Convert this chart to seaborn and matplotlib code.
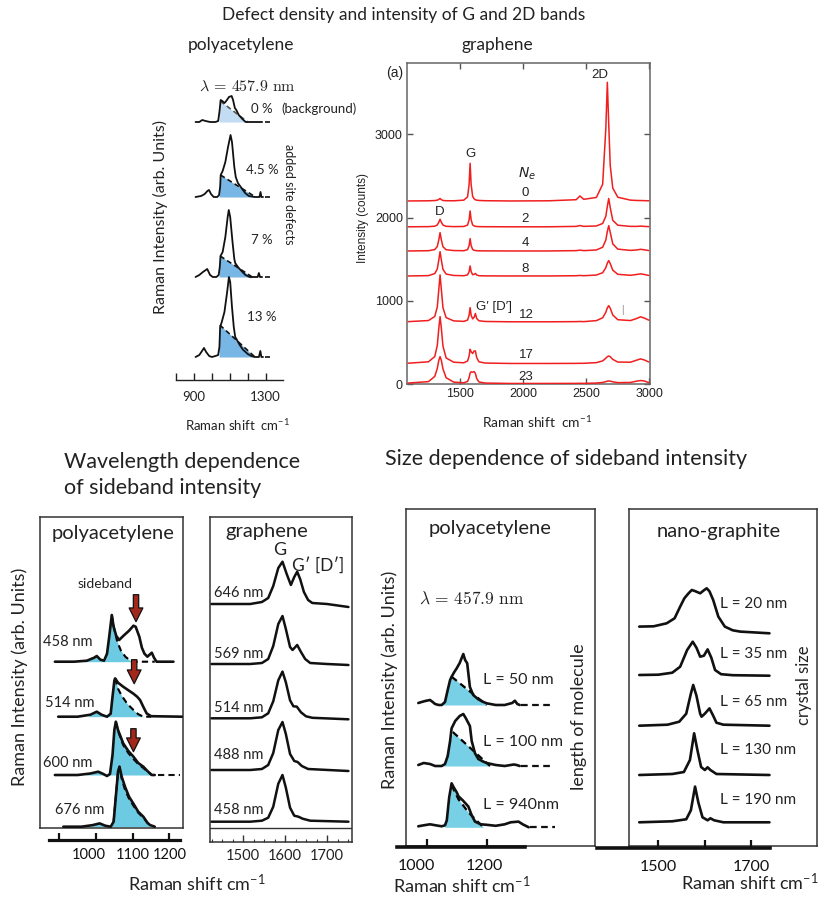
import numpy as np
import matplotlib
matplotlib.use('Agg')
import matplotlib.pyplot as plt
import seaborn as sns
from matplotlib.transforms import ScaledTranslation

sns.set_theme(style='white')
plt.rcParams['font.family'] = ['Lato', 'DejaVu Sans']
plt.rcParams['mathtext.fontset'] = 'custom'
plt.rcParams['mathtext.rm'] = 'Lato'
plt.rcParams['mathtext.it'] = 'Lato:italic'

W, H = 830, 908
fig = plt.figure(figsize=(8.3, 9.08), dpi=100)
fig.patch.set_facecolor('white')

# ---------------- data : panel 1 (polyacetylene, defects) ----------------
p1_labels = ['0 %', '4.5 %', '7 %', '13 %']
p1_offsets = [258, 183, 103, 23]
p1_x_0 = [909, 930, 946, 965, 990, 1020, 1035, 1042, 1049, 1058, 1070, 1080, 1095, 1110, 1118, 1128, 1136, 1150, 1170, 1188, 1230, 1280]
p1_y_0 = [0, 0, 2, 1, 0, 0, 1, 10, 22, 21, 19, 21, 25, 26, 22, 14, 12, 7, 3, 0, 0, 0]
p1_x_45 = [909, 940, 960, 975, 984, 995, 1010, 1030, 1040, 1046, 1049, 1060, 1075, 1090, 1104, 1112, 1125, 1133, 1145, 1165, 1185, 1206, 1240, 1265, 1271, 1276, 1285]
p1_y_45 = [0, 1, 3, 6, 7, 3, 0, 0, 2, 10, 22, 26, 35, 50, 62, 55, 30, 20, 14, 9, 4, 1, 0, 0, 5, 0, 0]
p1_x_7 = [909, 930, 950, 974, 990, 1005, 1025, 1038, 1044, 1048, 1060, 1075, 1088, 1094, 1102, 1115, 1125, 1130, 1145, 1165, 1187, 1210, 1255, 1262, 1268, 1280]
p1_y_7 = [0, 2, 5, 8, 2, 0, 0, 2, 10, 21, 25, 40, 60, 67, 60, 35, 18, 14, 10, 6, 2, 0, 0, 4, 0, 0]
p1_x_13 = [909, 930, 945, 956, 968, 985, 1000, 1020, 1035, 1042, 1046, 1055, 1070, 1085, 1095, 1102, 1112, 1122, 1130, 1140, 1155, 1175, 1200, 1220, 1240, 1262, 1270, 1276, 1285]
p1_y_13 = [0, 2, 6, 9, 5, 1, 0, 1, 2, 10, 30, 35, 45, 65, 80, 75, 50, 30, 20, 17, 12, 7, 3, 1, 0, 0, 6, 0, 0]
p1_fit_x = [[1040, 1046, 1200], [1040, 1048, 1243], [1040, 1046, 1225], [1040, 1044, 1240]]
p1_fit_y = [[0, 21, 0], [0, 22, 0], [0, 21, 0], [0, 32, 0]]
p1_tail = [1295, 1345]
p1_ticks = [800, 900, 1000, 1100, 1200, 1300]
p1_ticklabels = ['', '900', '', '', '', '1300']

# ---------------- data : panel 2 (graphene, red) ----------------
p2_labels = ['0', '2', '4', '8', '12', '17', '23']
p2_base = [2200, 1890, 1600, 1300, 750, 250, 10]
p2_x = [1090, 1250, 1300, 1320, 1332, 1342, 1352, 1365, 1390, 1450, 1530, 1560, 1572, 1580, 1588, 1600, 1612, 1622, 1632, 1650,
        1700, 1900, 2200, 2420, 2450, 2480, 2580, 2630, 2655, 2667, 2678, 2690, 2710, 2750, 2850, 2900, 2930, 2960, 2995]
p2_y_0 = [0, 2, 5, 10, 18, 30, 16, 6, 3, 2, 10, 50, 200, 452, 200, 55, 25, 14, 10, 6, 3, 0, 2, 15, 60, 20, 42, 200, 870, 1424, 925, 425, 154, 45, 10, 6, 5, 4, 2]
p2_y_2 = [0, 2, 7, 22, 55, 90, 55, 21, 6, 2, 4, 21, 84, 190, 84, 23, 10, 6, 4, 2, 1, 0, 0, 5, 15, 5, 10, 40, 126, 245, 340, 231, 78, 19, 5, 5, 8, 5, 2]
p2_y_4 = [0, 3, 17, 54, 134, 220, 134, 51, 15, 5, 3, 16, 65, 148, 65, 18, 8, 5, 3, 2, 1, 0, 0, 4, 10, 4, 12, 45, 131, 234, 304, 224, 85, 22, 7, 12, 20, 14, 5]
p2_y_8 = [0, 4, 29, 84, 193, 292, 193, 79, 23, 6, 3, 13, 53, 120, 53, 15, 20, 30, 12, 3, 1, 0, 0, 3, 6, 3, 11, 39, 99, 154, 184, 149, 70, 20, 8, 18, 25, 18, 6]
p2_y_12 = [2, 15, 64, 178, 389, 562, 389, 168, 50, 11, 5, 21, 80, 170, 80, 35, 55, 100, 40, 12, 4, 0, 0, 2, 4, 2, 14, 48, 114, 167, 194, 163, 82, 25, 15, 40, 60, 45, 20]
p2_y_17 = [3, 20, 83, 217, 423, 562, 423, 207, 66, 15, 8, 30, 90, 170, 140, 120, 150, 150, 70, 20, 5, 0, 0, 1, 2, 2, 10, 31, 63, 82, 90, 81, 49, 17, 15, 40, 55, 42, 18]
p2_y_23 = [5, 22, 85, 181, 278, 322, 278, 174, 69, 16, 8, 25, 70, 125, 140, 135, 142, 120, 60, 18, 5, 0, 0, 1, 2, 1, 5, 12, 22, 28, 30, 28, 20, 10, 12, 28, 35, 30, 10]
p2_xticks = [1500, 2000, 2500, 3000]
p2_yticks = [0, 1000, 2000, 3000]

# ---------------- data : panel 3 (polyacetylene, wavelength) ----------------
p3_labels = ['458 nm', '514 nm', '600 nm', '676 nm']
p3_offsets = [166, 111, 52.7, 1]
p3_x_458 = [888, 940, 975, 995, 1002, 1012, 1022, 1030, 1036, 1043, 1048, 1055, 1063, 1075, 1090, 1102, 1108, 1118, 1125, 1132, 1140, 1146, 1152, 1158, 1165, 1211]
p3_y_458 = [0, 0, 1, 4, 5.7, 2, 1, 8, 25, 46.7, 35, 26, 21.7, 26, 31, 36, 35, 25, 14, 8, 5, 7, 9, 4, 0, 0]
p3_fx_458 = [965, 985, 1002, 1015, 1025, 1030, 1036, 1043, 1050, 1058, 1068, 1080, 1092, 1100, 1160]
p3_fy_458 = [0, 2, 5.7, 2, 1, 8, 25, 46.7, 32, 20, 11, 5, 1.5, 0, 0]
p3_x_514 = [897, 950, 985, 1002, 1015, 1030, 1040, 1045, 1050, 1052, 1060, 1074, 1090, 1102, 1112, 1120, 1130, 1138, 1150, 1234]
p3_y_514 = [0, 0, 2, 5, 2, 0, 3, 20, 36, 38.3, 34, 30, 26, 23, 20, 16.7, 9, 3.3, 0.5, 0]
p3_fx_514 = [975, 990, 1002, 1015, 1030, 1040, 1045, 1050, 1052, 1060, 1070, 1085, 1102, 1115, 1129, 1150]
p3_fy_514 = [0, 2, 5, 2, 0, 3, 20, 36, 38.3, 28, 21, 13, 6.7, 2.5, 0, 0]
p3_x_600 = [888, 950, 985, 1006, 1020, 1030, 1038, 1045, 1050, 1054, 1060, 1074, 1088, 1102, 1115, 1129, 1140, 1152, 1160]
p3_y_600 = [0, 0, 1.5, 3.3, 1, -1, 1, 20, 45, 53.3, 45, 31.7, 24, 18.3, 12, 8.3, 4, 0, 0]
p3_fx_600 = [970, 990, 1006, 1020, 1030, 1038, 1045, 1050, 1054, 1062, 1074, 1088, 1102, 1115, 1129, 1140, 1152]
p3_fy_600 = [0, 1.5, 3.3, 1, 0, 1, 20, 45, 53.3, 42, 30, 22, 16, 11, 7, 3.5, 0]
p3_x_676 = [911, 960, 990, 1010, 1025, 1040, 1048, 1054, 1060, 1064, 1070, 1079, 1090, 1102, 1115, 1129, 1140, 1147, 1160]
p3_y_676 = [0, 0, 1.5, 3.3, 1, 0, 5, 30, 55, 60, 50, 40, 30, 23, 15, 10, 4, 1.7, 0]
p3_fx_676 = [980, 995, 1010, 1025, 1040, 1048, 1054, 1060, 1064, 1070, 1079, 1090, 1102, 1115, 1129, 1140, 1150]
p3_fy_676 = [0, 1.5, 3.3, 1, 0, 5, 30, 55, 60, 48, 37, 28, 21, 14, 9, 4, 0]
p3_dash_from = [1043, 1052, 1054, 1048]
p3_tail_600 = [1168, 1228]
p3_arrow_x = [1109, 1104, 1102]
p3_arrow_top = [233, 168, 99]
p3_arrow_tip = [206, 144, 76]
p3_ticks = [900, 1000, 1100, 1200]
p3_ticklabels = ['', '1000', '1100', '1200']

# ---------------- data : panel 4 (graphene, wavelength) ----------------
p4_labels = ['646 nm', '569 nm', '514 nm', '488 nm', '458 nm']
p4_offsets = [237.7, 177.7, 123.4, 71.7, 20]
p4_x_646 = [1425, 1477, 1517, 1545, 1560, 1572, 1584, 1594, 1604, 1614, 1622, 1629, 1636, 1645, 1655, 1665, 1700, 1751]
p4_y_646 = [0, 0, 0, 2, 6, 18, 36, 42.3, 30, 19, 27, 32.3, 25, 12, 4, 1, 0, -3]
p4_x_569 = [1425, 1517, 1545, 1560, 1572, 1584, 1594, 1602, 1612, 1618, 1629, 1638, 1648, 1660, 1700, 1751]
p4_y_569 = [0, 0, 1, 5, 18, 40, 48, 35, 17, 14, 19, 12, 5, 1, 0, -1]
p4_x_514 = [1425, 1517, 1545, 1560, 1572, 1584, 1594, 1602, 1612, 1620, 1628, 1638, 1650, 1665, 1751]
p4_y_514 = [0, 0, 1, 5, 17, 38, 46.7, 36, 18, 12, 11.7, 6, 2, 0.5, -1]
p4_x_488 = [1425, 1517, 1545, 1560, 1572, 1584, 1594, 1602, 1612, 1622, 1630, 1640, 1655, 1751]
p4_y_488 = [0, 0, 1, 5, 17, 40, 48, 36, 16, 9, 8, 4, 1, -1]
p4_x_458 = [1425, 1517, 1545, 1560, 1572, 1584, 1594, 1602, 1612, 1622, 1632, 1642, 1660, 1751]
p4_y_458 = [0, 0, 1, 4, 15, 38, 46.7, 34, 14, 6, 5, 3, 1, 0]
p4_ticks = [1500, 1600, 1700]

# ---------------- data : panel 5 (polyacetylene, size) ----------------
p5_labels = ['L = 50 nm', 'L = 100 nm', 'L = 940nm']
p5_offsets = [141, 80, 18.7]
p5_x_50 = [972, 983, 995, 1011, 1020, 1028, 1040, 1050, 1061, 1070, 1078, 1083, 1092, 1100, 1110, 1122, 1128, 1135, 1144, 1155, 1172, 1189, 1200, 1230, 1260, 1285, 1294, 1302, 1310]
p5_y_50 = [2, 3, 4, 5, 3, 1, 0, 0, 3, 15, 25, 28.3, 33, 36.7, 42, 51, 45, 41.7, 18, 10, 5.7, 3, 1.7, 0, 0, 2, 4.3, 1, 0]
p5_fx_50 = [1050, 1062, 1083, 1200]
p5_fy_50 = [0, 10, 28.3, 0]
p5_x_100 = [972, 990, 1011, 1028, 1050, 1061, 1070, 1078, 1083, 1095, 1110, 1122, 1130, 1144, 1150, 1161, 1172, 1189, 1200, 1230, 1260, 1290, 1300, 1310]
p5_y_100 = [1, 3, 2, 0, 0, 2, 10, 25, 37.7, 45, 50, 52, 48, 40, 25, 12.7, 7, 4.3, 3, 1, 0, 1.5, 1, 0]
p5_fx_100 = [1055, 1066, 1087, 1211]
p5_fy_100 = [0, 12, 34, 0]
p5_x_940 = [972, 990, 1011, 1030, 1050, 1061, 1067, 1075, 1083, 1090, 1100, 1106, 1120, 1139, 1150, 1161, 1180, 1200, 1230, 1260, 1280, 1306, 1320, 1340]
p5_y_940 = [1, 2, 3, 2, 1, 2, 7, 30, 44, 40, 35, 31, 27, 20.7, 12, 5.7, 3, 2.5, 1.5, 3, 5, 5.7, 3, 0]
p5_fx_940 = [1060, 1070, 1083, 1106, 1139, 1189]
p5_fy_940 = [0, 12, 42, 28, 15, 0]
p5_tails = [[1315, 1411], [1315, 1411], [1345, 1428]]
p5_ticks = [1000, 1200]

# ---------------- data : panel 6 (nano-graphite) ----------------
p6_labels = ['L = 20 nm', 'L = 35 nm', 'L = 65 nm', 'L = 130 nm', 'L = 190 nm']
p6_offsets = [212.7, 170.3, 120.3, 71, 23.7]
p6_x_20 = [1459, 1490, 1518, 1535, 1547, 1556, 1565, 1572, 1580, 1590, 1598, 1604, 1610, 1618, 1629, 1643, 1660, 1676, 1739]
p6_y_20 = [6.7, 7, 10, 15, 26.7, 35, 40, 43.3, 42, 40, 43, 45, 42, 33.3, 16.7, 6.7, 3, 1.7, 0]
p6_x_35 = [1459, 1500, 1530, 1547, 1562, 1574, 1582, 1590, 1598, 1606, 1614, 1622, 1635, 1660, 1739]
p6_y_35 = [0.7, 1, 3, 9, 25.7, 34, 28, 19, 20, 26.3, 18, 5.7, 1.5, 0.5, 0]
p6_x_65 = [1459, 1520, 1545, 1560, 1570, 1575, 1582, 1590, 1593, 1600, 1610, 1618, 1625, 1640, 1739]
p6_y_65 = [0, 1, 4, 12, 32, 40.7, 30, 12, 9, 12, 17.3, 10, 3, 1, 0]
p6_x_130 = [1459, 1530, 1555, 1568, 1577, 1584, 1592, 1600, 1606, 1612, 1625, 1739]
p6_y_130 = [0, 1, 3, 15, 41.7, 25, 8, 5, 7.7, 5, 1, 0]
p6_x_190 = [1459, 1530, 1560, 1570, 1579, 1586, 1595, 1606, 1612, 1620, 1640, 1739]
p6_y_190 = [0, 1, 3, 12, 35.7, 20, 5, 2, 4, 2, 0, 0]
p6_ticks = [1500, 1600, 1700]
p6_ticklabels = ['1500', '', '1700']


# ---------------- helpers ----------------
def px_ax(x0, y0, x1, y1):
    ax = fig.add_axes([x0 / W, 1 - y1 / H, (x1 - x0) / W, (y1 - y0) / H])
    ax.set_facecolor('none')
    return ax


def put(x, y, s, **kw):
    kw.setdefault('ha', 'center')
    kw.setdefault('va', 'center')
    fig.text(x / W, 1 - y / H, s, **kw)


def frame(ax, spines=('left', 'right', 'top', 'bottom'), lw=1.0, color='black'):
    for k, s in ax.spines.items():
        s.set_visible(k in spines)
        s.set_linewidth(lw)
        s.set_color(color)
    ax.set_xticks([])
    ax.set_yticks([])


def line(ax, xs, ys, off, color='black', lw=1.6, z=3):
    sns.lineplot(x=np.asarray(xs, float), y=np.asarray(ys, float) + off, ax=ax, color=color,
                 linewidth=lw, estimator=None, sort=False, legend=False, zorder=z)
    ax.set_xlabel('')
    ax.set_ylabel('')


def fill(ax, fx, fy, off, color):
    fx = np.asarray(fx, float)
    fy = np.asarray(fy, float)
    ax.fill_between(fx, off, fy + off, color=color, lw=0, zorder=1)


def dashed(ax, fx, fy, off, start, color='black', lw=1.3):
    fx = np.asarray(fx, float)
    fy = np.asarray(fy, float)
    m = fx >= start
    ax.plot(fx[m], fy[m] + off, ls=(0, (3, 2)), color=color, lw=lw, zorder=2)


def underline_axis(ax, ticks, labels, size, pad, lw=2.3, tlen=5, shifts=None):
    for k, s in ax.spines.items():
        s.set_visible(k == 'bottom')
    ax.spines['bottom'].set_linewidth(lw)
    ax.spines['bottom'].set_color('#111111')
    ax.set_yticks([])
    ax.set_xticks(ticks)
    ax.set_xticklabels(labels)
    ax.tick_params(axis='x', direction='in', length=tlen, width=1.6, pad=pad, labelsize=size,
                   colors='#111111', bottom=True)
    if shifts:
        for lab, dx in zip(ax.get_xticklabels(), shifts):
            lab.set_transform(lab.get_transform() + ScaledTranslation(dx / 100.0, 0, fig.dpi_scale_trans))


# ================= panel 1 =================
ax1 = px_ax(176, 80, 283.3, 380)
ax1.set_xlim(800, 1398)
ax1.set_ylim(0, 300)
for s in ax1.spines.values():
    s.set_visible(False)
ax1.spines['bottom'].set_visible(True)
ax1.spines['bottom'].set_color('#222222')
ax1.spines['bottom'].set_linewidth(1.0)
ax1.set_yticks([])
ax1.set_xticks(p1_ticks)
ax1.set_xticklabels(p1_ticklabels)
ax1.tick_params(axis='x', direction='in', length=5, width=1, pad=8, labelsize=9.5, bottom=True, colors='#222222')
p1_xs = [p1_x_0, p1_x_45, p1_x_7, p1_x_13]
p1_ys = [p1_y_0, p1_y_45, p1_y_7, p1_y_13]
for i in range(4):
    off = p1_offsets[i]
    col = '#c2ddf3' if i == 0 else '#78b6e6'
    fill(ax1, p1_fit_x[i], p1_fit_y[i], off, col)
    dashed(ax1, p1_fit_x[i], p1_fit_y[i], off, p1_fit_x[i][1], color='#555555' if i == 0 else '#111111', lw=1.2)
    line(ax1, p1_xs[i], p1_ys[i], off, color='#111111', lw=1.3)
    ax1.plot(p1_tail, [off, off], ls=(0, (3, 3)), color='#111111', lw=1.2)

put(404, 15, 'Defect density and intensity of G and 2D bands', fontsize=12.5, color='#222222')
put(241, 45, 'polyacetylene', fontsize=12.5, color='#222222')
put(497, 45, 'graphene', fontsize=12.5, color='#222222')
put(247, 87, r'$\lambda\,=\,457.9\ \mathrm{nm}$', fontsize=11.5, math_fontfamily='cm', color='#222222')
p1_label_y = [109, 170, 240, 317]
for lab, yy in zip(p1_labels, p1_label_y):
    put(262, yy, lab, fontsize=9.5, color='#222222')
put(319, 109, '(background)', fontsize=9.5, color='#222222')
put(289, 194, 'added site defects', rotation=-90, fontsize=9, color='#222222')
put(160, 217, 'Raman Intensity (arb. Units)', rotation=90, fontsize=11.5, color='#222222')
put(238, 425, r'Raman shift  cm$^{-1}$', fontsize=9.5, color='#222222')

# ================= panel 2 =================
ax2 = px_ax(407, 63.3, 650, 384.3)
ax2.set_xlim(1080, 3005)
ax2.set_ylim(0, 3852)
p2_ys = [p2_y_0, p2_y_2, p2_y_4, p2_y_8, p2_y_12, p2_y_17, p2_y_23]
for i in range(7):
    line(ax2, p2_x, p2_ys[i], p2_base[i], color='#f01e1e', lw=1.1)
for s in ax2.spines.values():
    s.set_color('#666666')
    s.set_linewidth(1.1)
ax2.set_xticks(p2_xticks)
ax2.set_yticks(p2_yticks)
ax2.set_xticklabels([str(v) for v in p2_xticks])
ax2.set_yticklabels([str(v) for v in p2_yticks])
ax2.tick_params(direction='in', length=4, width=1, colors='#555555', labelcolor='#222222',
                labelsize=9, top=True, right=True, bottom=True, left=True, pad=3)
for lab in ax2.get_xticklabels() + ax2.get_yticklabels():
    lab.set_fontfamily('Liberation Sans')
arial = dict(fontfamily='Liberation Sans', color='#222222')
put(395, 73, '(a)', fontsize=10, **arial)
put(470, 154, 'G', fontsize=9.5, **arial)
put(600, 75, '2D', fontsize=9.5, **arial)
put(440, 212, 'D', fontsize=9.5, **arial)
put(527, 174, r'$N_e$', fontsize=10, math_fontfamily='dejavusans', color='#222222')
p2_label_y = [193, 219, 243.5, 268.5, 315, 355, 377]
for lab, yy in zip(p2_labels, p2_label_y):
    put(525 if len(lab) == 1 else 526, yy, lab, fontsize=9.5, **arial)
put(494, 307, "G\u2032 [D\u2032]", fontsize=9.5, **arial)
put(622.7, 310, '|', fontsize=7, color='#888888', fontfamily='Liberation Sans')
put(363, 218, 'Intensity (counts)', rotation=90, fontsize=8.5, **arial)
put(537, 422, r'Raman shift  cm$^{-1}$', fontsize=10, color='#222222')

# ================= bottom titles =================
put(64, 462, 'Wavelength dependence', ha='left', fontsize=15.5, color='#222222')
put(64, 488, 'of sideband intensity', ha='left', fontsize=15.5, color='#222222')
put(385, 459, 'Size dependence of sideband intensity', ha='left', fontsize=15.5, color='#222222')

# ================= panel 3 =================
ax3 = px_ax(40, 517.3, 182.7, 827.7)
ax3.set_xlim(847.4, 1236.2)
ax3.set_ylim(0, 310.4)
frame(ax3, lw=1.1, color='#333333')
cyan = '#6ccbe2'
p3_xs = [p3_x_458, p3_x_514, p3_x_600, p3_x_676]
p3_ys = [p3_y_458, p3_y_514, p3_y_600, p3_y_676]
p3_fxs = [p3_fx_458, p3_fx_514, p3_fx_600, p3_fx_676]
p3_fys = [p3_fy_458, p3_fy_514, p3_fy_600, p3_fy_676]
for i in range(4):
    off = p3_offsets[i]
    fill(ax3, p3_fxs[i], p3_fys[i], off, cyan)
    dashed(ax3, p3_fxs[i], p3_fys[i], off, p3_dash_from[i], lw=1.5)
    line(ax3, p3_xs[i], p3_ys[i], off, color='#111111', lw=1.9)
ax3.plot(p3_tail_600, [p3_offsets[2], p3_offsets[2]], ls=(0, (3, 2)), color='#111111', lw=1.5)
for xa, yt, yp in zip(p3_arrow_x, p3_arrow_top, p3_arrow_tip):
    ax3.annotate('', xy=(xa, yp), xytext=(xa, yt),
                 arrowprops=dict(arrowstyle='simple,head_length=0.9,head_width=0.9,tail_width=0.35',
                                 fc='#a3281c', ec='#111111', lw=0.9, shrinkA=0, shrinkB=0,
                                 mutation_scale=11), zorder=5)
ax3b = px_ax(49.3, 830, 180, 840)
ax3b.set_xlim(872.8, 1228.9)
underline_axis(ax3b, p3_ticks, p3_ticklabels, 10.5, 5.5, shifts=[0, -7, 0, 0])
put(113, 533, 'polyacetylene', fontsize=14.5, color='#222222')
put(105, 584, 'sideband', fontsize=10, color='#222222')
p3_label_xy = [(68, 642), (70, 703), (68, 763), (80, 810)]
for lab, (xx, yy) in zip(p3_labels, p3_label_xy):
    put(xx, yy, lab, fontsize=10.5, color='#222222')
put(20, 677, 'Raman Intensity (arb. Units)', rotation=90, fontsize=13, color='#222222')

# ================= panel 4 =================
ax4 = px_ax(210, 516.7, 351.7, 841.7)
ax4.set_xlim(1421.4, 1758.8)
ax4.set_ylim(0, 325)
for s in ax4.spines.values():
    s.set_linewidth(1.1)
    s.set_color('#333333')
ax4.set_yticks([])
ax4.set_xticks(p4_ticks)
ax4.set_xticklabels([str(v) for v in p4_ticks])
ax4.set_xticks(np.arange(1425, 1751, 25), minor=True)
ax4.tick_params(axis='x', which='major', direction='in', length=5, width=1, pad=5.5, labelsize=10.5,
                bottom=True, colors='#333333', labelcolor='#222222')
ax4.tick_params(axis='x', which='minor', direction='in', length=2.5, width=0.8, bottom=True, colors='#333333')
ax4.axhline(13.4, color='#333333', lw=1.0)
p4_xs = [p4_x_646, p4_x_569, p4_x_514, p4_x_488, p4_x_458]
p4_ys = [p4_y_646, p4_y_569, p4_y_514, p4_y_488, p4_y_458]
for i in range(5):
    line(ax4, p4_xs[i], p4_ys[i], p4_offsets[i], color='#111111', lw=1.8)
put(267, 532, 'graphene', fontsize=14.5, color='#222222')
put(280, 550, 'G', fontsize=13, color='#222222')
put(318, 565, "G\u2032 [D\u2032]", fontsize=12.5, color='#222222')
p4_label_y = [593, 653.5, 708.5, 755, 810]
for lab, yy in zip(p4_labels, p4_label_y):
    put(238.5, yy, lab, fontsize=10.5, color='#222222')
put(197, 884, r'Raman shift cm$^{-1}$', fontsize=13, color='#222222')

# ================= panel 5 =================
ax5 = px_ax(406, 509, 595, 846)
ax5.set_xlim(931, 1561)
ax5.set_ylim(0, 337)
frame(ax5, lw=1.1, color='#333333')
p5_xs = [p5_x_50, p5_x_100, p5_x_940]
p5_ys = [p5_y_50, p5_y_100, p5_y_940]
p5_fxs = [p5_fx_50, p5_fx_100, p5_fx_940]
p5_fys = [p5_fy_50, p5_fy_100, p5_fy_940]
for i in range(3):
    off = p5_offsets[i]
    fill(ax5, p5_fxs[i], p5_fys[i], off, '#78d0e6')
    dashed(ax5, p5_fxs[i], p5_fys[i], off, p5_fxs[i][2], lw=1.6)
    line(ax5, p5_xs[i], p5_ys[i], off, color='#111111', lw=1.9)
    ax5.plot(p5_tails[i], [off, off], ls=(0, (3, 2)), color='#111111', lw=1.6)
ax5b = px_ax(396.7, 837, 525, 847.3)
ax5b.set_xlim(900, 1327.7)
underline_axis(ax5b, p5_ticks, [str(v) for v in p5_ticks], 11.5, 8.5, lw=2.6, tlen=6, shifts=[-10, -2])
put(490, 528.5, 'polyacetylene', fontsize=14.5, color='#222222')
put(472, 598.5, r'$\lambda\,=\,457.9\ \mathrm{nm}$', fontsize=12.5, math_fontfamily='cm', color='#222222')
p5_label_y = [680, 742, 805]
for lab, yy in zip(p5_labels, p5_label_y):
    put(483, yy, lab, ha='left', fontsize=11.5, color='#222222')
put(578.5, 717, 'length of molecule', rotation=90, fontsize=13, color='#222222')
put(390, 680, 'Raman Intensity (arb. Units)', rotation=90, fontsize=13, color='#222222')
put(462, 885, r'Raman shift cm$^{-1}$', fontsize=13, color='#222222')

# ================= panel 6 =================
ax6 = px_ax(629.3, 509, 816.7, 846)
ax6.set_xlim(1437.6, 1840.6)
ax6.set_ylim(0, 337)
frame(ax6, lw=1.1, color='#333333')
p6_xs = [p6_x_20, p6_x_35, p6_x_65, p6_x_130, p6_x_190]
p6_ys = [p6_y_20, p6_y_35, p6_y_65, p6_y_130, p6_y_190]
for i in range(5):
    line(ax6, p6_xs[i], p6_ys[i], p6_offsets[i], color='#111111', lw=1.9)
ax6b = px_ax(597, 838, 770, 848.3)
ax6b.set_xlim(1368, 1740)
underline_axis(ax6b, p6_ticks, p6_ticklabels, 11.5, 8.5, lw=2.6, tlen=6)
put(657, 532, 'nano-graphite', ha='left', fontsize=14.5, color='#222222')
p6_label_y = [603.5, 653.5, 702, 749.5, 800]
for lab, yy in zip(p6_labels, p6_label_y):
    put(719.5, yy, lab, ha='left', fontsize=11, color='#222222')
put(803.5, 685, 'crystal size', rotation=90, fontsize=12, color='#222222')
put(818, 883, r'Raman shift cm$^{-1}$', ha='right', fontsize=13, color='#222222')

fig.savefig('out.png', dpi=100, facecolor='white')
